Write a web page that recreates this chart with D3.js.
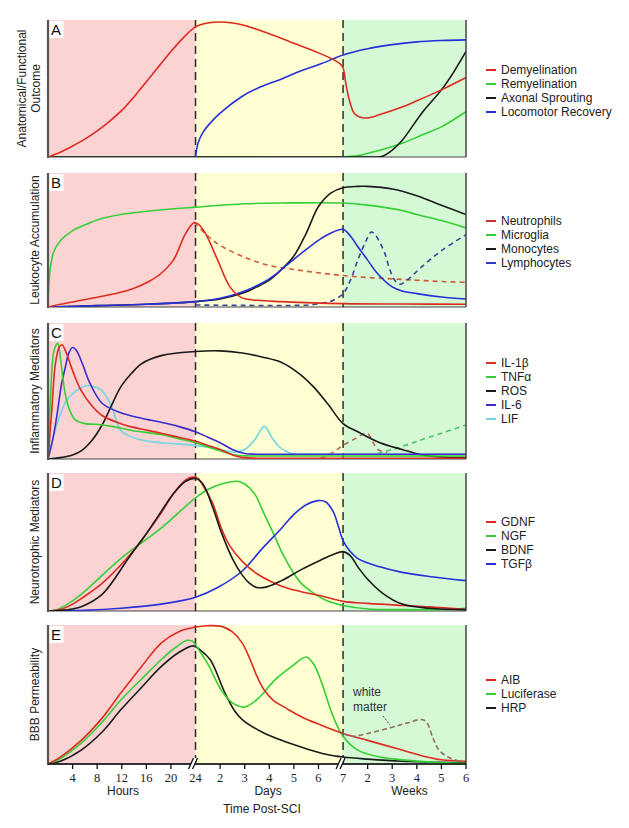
<!DOCTYPE html>
<html><head><meta charset="utf-8">
<script src="https://cdn.jsdelivr.net/npm/d3@7"></script>
<style>body{margin:0;background:#fff}svg{display:block;font-family:"Liberation Sans",Arial,sans-serif}</style>
</head><body><svg id="c" width="629" height="828"></svg>
<script>
// time index: 0..6 = hours 0..24 (4h per unit), 6..12 = days 1..7, 12..17 = weeks 1..6
const phases = [{from:0,to:6,name:"Hours"},{from:6,to:12,name:"Days"},{from:12,to:17,name:"Weeks"}];
const tickUnits  = [1,2,3,4,5,6,7,8,9,10,11,12,13,14,15,16,17];
const tickLabels = ["4","8","12","16","20","24","2","3","4","5","6","7","2","3","4","5","6"];

// Panel A
const demyelination = [[0,0],[0.5,0.035],[1,0.08],[1.5,0.13],[2,0.19],[2.5,0.26],[3,0.34],[3.5,0.44],[4,0.55],[4.5,0.66],[5,0.77],[5.5,0.87],[6,0.95],[6.5,0.978],[7,0.985],[7.5,0.978],[8,0.96],[9,0.9],[10,0.83],[11,0.76],[11.5,0.72],[11.85,0.685],[12,0.65],[12.1,0.55],[12.25,0.42],[12.45,0.32],[12.7,0.29],[13,0.285],[13.5,0.31],[14.4,0.365],[15,0.41],[16,0.49],[17,0.58]];
const remyelination = [[0,0],[6,0],[12,0],[12.6,0.01],[13.5,0.05],[14.4,0.1],[15.2,0.16],[16,0.22],[17,0.33]];
const axonalSprouting = [[0,0],[6,0],[12,0],[13.3,0],[13.6,0.005],[14,0.05],[14.4,0.12],[15.2,0.32],[16,0.49],[16.5,0.62],[17,0.77]];
const locomotorRecovery = [[6,0],[6.1,0.1],[6.3,0.18],[6.56,0.24],[7,0.32],[7.87,0.44],[8.5,0.5],[9.5,0.57],[10.3,0.63],[11.1,0.68],[12,0.745],[13,0.79],[14,0.82],[15,0.84],[16,0.85],[17,0.855]];

// Panel B
const neutrophils = [[0,0],[0.5,0.02],[1.35,0.05],[2.2,0.08],[2.96,0.11],[3.5,0.14],[4.1,0.19],[4.6,0.25],[5.1,0.35],[5.6,0.55],[5.95,0.63],[6.1,0.62],[6.4,0.55],[6.9,0.35],[7.4,0.15],[7.87,0.07],[8.5,0.05],[9.5,0.04],[12,0.025],[14.5,0.022],[17,0.02]];
const neutrophilsDashed = [[5.95,0.63],[6.5,0.53],[7,0.46],[8,0.37],[9,0.31],[10,0.28],[11,0.255],[12,0.235],[13,0.22],[14,0.21],[15,0.2],[16,0.19],[17,0.185]];
const microglia = [[0,0],[0.03,0.15],[0.1,0.3],[0.25,0.42],[0.53,0.5],[1,0.57],[1.35,0.6],[2,0.65],[2.96,0.69],[4,0.715],[6,0.745],[8,0.77],[9.5,0.776],[12,0.776],[13,0.76],[14.4,0.72],[15,0.69],[16,0.645],[17,0.59]];
const monocytes = [[0,0],[2,0.01],[4,0.02],[6,0.04],[7,0.06],[7.87,0.1],[8.5,0.15],[9,0.2],[9.5,0.28],[10,0.38],[10.5,0.55],[11,0.75],[11.5,0.85],[12,0.89],[12.6,0.9],[13,0.9],[14,0.88],[15,0.83],[16,0.76],[17,0.69]];
const lymphocytes = [[0,0],[2,0.01],[4,0.02],[6,0.04],[7,0.065],[7.87,0.11],[8.5,0.16],[9,0.21],[9.5,0.28],[10.3,0.4],[11.1,0.51],[11.6,0.56],[12,0.58],[12.3,0.53],[12.6,0.45],[13,0.35],[13.4,0.25],[14,0.15],[14.4,0.12],[15,0.1],[16,0.075],[17,0.06]];
const lymphocytesDashed = [[6,0.015],[8,0.012],[10,0.012],[10.6,0.015],[11.2,0.03],[11.6,0.05],[12,0.1],[12.3,0.2],[12.6,0.35],[12.9,0.48],[13.15,0.56],[13.3,0.54],[13.5,0.48],[13.7,0.4],[13.9,0.28],[14.1,0.2],[14.3,0.17],[14.6,0.2],[15.2,0.3],[16,0.42],[17,0.54]];

// Panel C
const il1b = [[0,0],[0.15,0.35],[0.3,0.7],[0.45,0.82],[0.57,0.84],[0.7,0.8],[1,0.65],[1.3,0.52],[1.7,0.41],[2.2,0.32],[2.96,0.26],[3.8,0.22],[4.6,0.19],[5.3,0.16],[6,0.13],[6.5,0.1],[7,0.07],[7.5,0.03],[7.9,0.012],[8.5,0.006],[12,0.005],[17,0.005]];
const tnfa = [[0,0],[0.1,0.45],[0.25,0.8],[0.4,0.85],[0.5,0.75],[0.7,0.48],[0.9,0.35],[1.1,0.29],[1.5,0.26],[1.95,0.255],[2.6,0.24],[3.4,0.21],[4.6,0.18],[5.3,0.15],[6,0.12],[6.5,0.09],[7,0.06],[7.6,0.03],[8,0.023],[8.5,0.022],[12,0.022],[17,0.022]];
const ros = [[0,0],[0.5,0.01],[1,0.03],[1.35,0.06],[1.8,0.14],[2.2,0.25],[2.6,0.4],[2.96,0.53],[3.4,0.63],[3.8,0.7],[4.6,0.76],[6,0.79],[7,0.795],[7.9,0.78],[8.7,0.75],[9.5,0.71],[10.2,0.63],[10.8,0.53],[11.4,0.4],[12,0.26],[12.6,0.2],[13.5,0.12],[14.4,0.07],[15.2,0.03],[16,0.015],[17,0.01]];
const il6 = [[0,0],[0.2,0.15],[0.37,0.33],[0.55,0.55],[0.7,0.67],[0.85,0.78],[1,0.82],[1.15,0.8],[1.4,0.7],[1.7,0.56],[2.2,0.41],[2.96,0.34],[3.8,0.3],[4.6,0.27],[5.3,0.24],[6,0.2],[6.5,0.16],[7,0.12],[7.5,0.07],[8,0.04],[8.5,0.035],[12,0.035],[17,0.035]];
const lif = [[0,0],[0.2,0.15],[0.5,0.33],[0.75,0.43],[1,0.48],[1.3,0.52],[1.6,0.54],[1.9,0.53],[2.15,0.51],[2.4,0.45],[2.6,0.38],[2.96,0.21],[3.3,0.17],[3.8,0.14],[4.6,0.12],[6,0.1],[7,0.07],[7.6,0.05],[8,0.07],[8.4,0.14],[8.8,0.24],[9.1,0.16],[9.4,0.09],[9.9,0.04],[10.5,0.035],[13,0.035],[17,0.035]];
const il1bDashed = [[11.1,0.005],[11.6,0.05],[12,0.1],[12.5,0.15],[12.97,0.19],[13.2,0.13],[13.4,0.07],[13.8,0.05]];
const tnfaDashed = [[13.4,0.04],[13.8,0.06],[14.2,0.08],[15,0.13],[16,0.19],[17,0.25]];

// Panel D
const gdnf = [[0,0],[0.5,0.01],[1,0.05],[1.35,0.09],[2.2,0.2],[3.3,0.4],[4,0.56],[4.6,0.71],[5.1,0.85],[5.6,0.95],[5.9,0.97],[6.1,0.96],[6.4,0.88],[6.7,0.78],[7.05,0.6],[7.4,0.47],[7.9,0.36],[8.5,0.27],[9.5,0.18],[10.3,0.14],[11.1,0.11],[12,0.07],[13,0.055],[14.4,0.04],[15.5,0.03],[17,0.01]];
const ngf = [[0,0],[0.3,0.005],[0.8,0.05],[1.35,0.12],[2.96,0.38],[4.6,0.6],[6,0.82],[6.5,0.88],[7.05,0.92],[7.4,0.935],[7.7,0.94],[8,0.92],[8.4,0.85],[8.8,0.7],[9.2,0.55],[9.5,0.43],[9.9,0.3],[10.3,0.2],[10.8,0.13],[11.4,0.07],[12,0.04],[13,0.015],[14.4,0.01],[16,0.01],[17,0.02]];
const bdnf = [[0,0],[0.5,0.005],[1,0.015],[1.35,0.03],[2.2,0.12],[3.3,0.39],[4,0.56],[4.6,0.72],[5.1,0.85],[5.6,0.94],[6,0.96],[6.3,0.92],[6.7,0.75],[7.05,0.57],[7.5,0.38],[7.9,0.26],[8.2,0.2],[8.5,0.17],[8.9,0.175],[9.5,0.22],[10.3,0.3],[11.1,0.37],[11.6,0.41],[12,0.43],[12.3,0.4],[12.6,0.32],[13,0.23],[13.6,0.13],[14.4,0.05],[15.5,0.02],[17,0.01]];
const tgfb = [[0,0],[1.5,0.005],[2.96,0.02],[4.6,0.05],[6,0.1],[6.9,0.17],[7.9,0.29],[8.7,0.45],[9.5,0.6],[10,0.7],[10.5,0.77],[11,0.8],[11.3,0.79],[11.6,0.72],[11.8,0.62],[12,0.51],[12.3,0.43],[12.6,0.38],[13.5,0.32],[14.4,0.28],[15.5,0.25],[17,0.22]];

// Panel E
const aib = [[0,0],[0.5,0.05],[1.35,0.17],[2.2,0.33],[2.96,0.51],[3.8,0.7],[4.6,0.87],[5.3,0.95],[6,0.985],[6.5,0.995],[7.05,0.99],[7.5,0.95],[7.9,0.87],[8.2,0.76],[8.5,0.63],[8.8,0.53],[9.15,0.46],[9.7,0.4],[10.3,0.34],[11.1,0.28],[12,0.22],[13,0.17],[14.4,0.1],[15.2,0.06],[16,0.03],[17,0.02]];
const luciferase = [[0,0],[0.5,0.04],[1.35,0.15],[2.2,0.3],[2.96,0.46],[3.8,0.61],[4.6,0.75],[5.2,0.84],[5.67,0.89],[5.9,0.88],[6.1,0.83],[6.5,0.72],[7.05,0.53],[7.5,0.44],[8.0,0.41],[8.6,0.48],[9.2,0.6],[9.9,0.7],[10.5,0.77],[10.8,0.72],[11.1,0.6],[11.6,0.34],[12,0.2],[12.6,0.1],[13.5,0.05],[14.4,0.03],[16,0.01],[17,0.005]];
const hrp = [[0,0],[0.5,0.02],[1.35,0.1],[2.2,0.23],[2.96,0.39],[3.8,0.55],[4.6,0.7],[5.3,0.8],[5.9,0.85],[6.2,0.82],[6.6,0.75],[7.2,0.51],[7.6,0.38],[7.9,0.32],[8.7,0.23],[9.5,0.17],[10.5,0.11],[11.3,0.07],[12,0.05],[13,0.035],[14.4,0.02],[17,0.01]];
const whiteMatter = [[12,0.22],[12.4,0.2],[13,0.22],[13.9,0.26],[14.6,0.295],[15.2,0.32],[15.4,0.3],[15.65,0.19],[15.9,0.1],[16.35,0.043],[16.9,0.015]];

const RED="#dd2b22", GREEN="#35cf35", BLACK="#1a1a1a", BLUE="#2630d8", CYAN="#6fd6e2";

const panels = [
 {letter:"A", top:20, bottom:157, ylabel:["Anatomical/Functional","Outcome"], legendY:70,
  series:[
   {name:"Remyelination", color:GREEN, data:remyelination},
   {name:"Axonal Sprouting", color:BLACK, data:axonalSprouting},
   {name:"Locomotor Recovery", color:BLUE, data:locomotorRecovery},
   {name:"Demyelination", color:RED, data:demyelination}],
  legend:["Demyelination","Remyelination","Axonal Sprouting","Locomotor Recovery"]},
 {letter:"B", top:173, bottom:307, ylabel:["Leukocyte Accumulation"], legendY:221,
  series:[
   {name:"Microglia", color:GREEN, data:microglia},
   {name:"Neutrophils", color:"#cf5a3a", data:neutrophilsDashed, dash:"5,4"},
   {name:"Lymphocytes", color:"#34459a", data:lymphocytesDashed, dash:"5,4"},
   {name:"Monocytes", color:BLACK, data:monocytes},
   {name:"Lymphocytes", color:BLUE, data:lymphocytes},
   {name:"Neutrophils", color:RED, data:neutrophils}],
  legend:["Neutrophils","Microglia","Monocytes","Lymphocytes"],
  legendColors:{"Neutrophils":"#c8323a","Microglia":GREEN,"Monocytes":BLACK,"Lymphocytes":"#3236c0"}},
 {letter:"C", top:323, bottom:459, ylabel:["Inflammatory Mediators"], legendY:363,
  series:[
   {name:"IL-1β", color:"#b8665a", data:il1bDashed, dash:"5,4"},
   {name:"TNFα", color:"#4cc46a", data:tnfaDashed, dash:"5,4"},
   {name:"LIF", color:CYAN, data:lif},
   {name:"ROS", color:BLACK, data:ros},
   {name:"IL-6", color:"#3a2ad0", data:il6},
   {name:"TNFα", color:GREEN, data:tnfa},
   {name:"IL-1β", color:RED, data:il1b}],
  legend:["IL-1β","TNFα","ROS","IL-6","LIF"]},
 {letter:"D", top:473, bottom:611, ylabel:["Neurotrophic Mediators"], legendY:522,
  series:[
   {name:"NGF", color:GREEN, data:ngf},
   {name:"TGFβ", color:BLUE, data:tgfb},
   {name:"GDNF", color:RED, data:gdnf},
   {name:"BDNF", color:BLACK, data:bdnf}],
  legend:["GDNF","NGF","BDNF","TGFβ"]},
 {letter:"E", top:625, bottom:764, ylabel:["BBB Permeability"], legendY:680,
  series:[
   {name:"HRP", color:BLACK, data:hrp},
   {name:"Luciferase", color:GREEN, data:luciferase},
   {name:"AIB", color:RED, data:aib},
   {name:"white matter", color:"#8e7064", data:whiteMatter, dash:"5,3"}],
  legend:["AIB","Luciferase","HRP"]}
];
const legendColorDefault = {"Demyelination":RED,"Remyelination":GREEN,"Axonal Sprouting":BLACK,"Locomotor Recovery":BLUE,
 "IL-1β":RED,"TNFα":GREEN,"ROS":BLACK,"IL-6":"#3a2ad0","LIF":CYAN,"GDNF":RED,"NGF":GREEN,"BDNF":BLACK,"TGFβ":BLUE,
 "AIB":RED,"Luciferase":GREEN,"HRP":BLACK};
const phaseColors = ["#fbd3d3","#ffffd3","#d4f9d4"];

const svg = d3.select("#c");
const x = d3.scaleLinear().domain([0,17]).range([48,466]);

panels.forEach((p,pi)=>{
  const y = d3.scaleLinear().domain([0,1]).range([p.bottom,p.top]);
  const g = svg.append("g");
  g.selectAll("rect.bg").data(phases).join("rect")
    .attr("x",d=>x(d.from)).attr("width",d=>x(d.to)-x(d.from))
    .attr("y",p.top).attr("height",p.bottom-p.top).attr("fill",(d,i)=>phaseColors[i]);
  const clipId="clip"+pi;
  svg.append("clipPath").attr("id",clipId).append("rect")
    .attr("x",x(0)).attr("y",p.top-2).attr("width",x(17)-x(0)).attr("height",p.bottom-p.top+2);
  g.append("line").attr("x1",x(0)).attr("x2",x(17)).attr("y1",p.bottom).attr("y2",p.bottom)
    .attr("stroke","#444").attr("stroke-width",1.2);
  g.selectAll("line.div").data([6,12]).join("line")
    .attr("x1",d=>x(d)).attr("x2",d=>x(d)).attr("y1",p.top).attr("y2",p.bottom)
    .attr("stroke","#2a2a2a").attr("stroke-width",1.5).attr("stroke-dasharray","8,5");
  const line = d3.line().x(d=>x(d[0])).y(d=>y(Math.max(0,d[1]))).curve(d3.curveCatmullRom.alpha(0.5));
  const cg = g.append("g").attr("clip-path",`url(#${clipId})`);
  cg.selectAll("path").data(p.series).join("path")
    .attr("d",d=>line(d.data)).attr("fill","none")
    .attr("stroke",d=>d.color).attr("stroke-width",1.6)
    .attr("stroke-dasharray",d=>d.dash||null);
  g.append("line").attr("x1",x(0)).attr("x2",x(0)).attr("y1",p.top).attr("y2",p.bottom+1)
    .attr("stroke","#555").attr("stroke-width",2.2);
  g.append("line").attr("x1",x(17)).attr("x2",x(17)).attr("y1",p.top).attr("y2",p.bottom)
    .attr("stroke","#444").attr("stroke-width",1.5);
  g.append("rect").attr("x",x(0)+1.5).attr("y",p.top+1).attr("width",14).attr("height",17).attr("fill","#fff");
  g.append("text").attr("x",x(0)+3).attr("y",p.top+15).attr("font-size",15).attr("fill","#111").text(p.letter);
  const cy=(p.top+p.bottom)/2;
  const lx = p.ylabel.length===2?[22,36]:[35];
  p.ylabel.forEach((t,i)=>{
    g.append("text").attr("transform",`translate(${lx[i]},${cy}) rotate(-90)`)
      .attr("text-anchor","middle").attr("dominant-baseline","central")
      .attr("font-size",12).attr("fill","#222").text(t);
  });
  const lg = g.append("g");
  p.legend.forEach((t,i)=>{
    const ly = p.legendY + i*14;
    const col = (p.legendColors&&p.legendColors[t])||legendColorDefault[t];
    lg.append("line").attr("x1",486).attr("x2",496).attr("y1",ly).attr("y2",ly).attr("stroke",col).attr("stroke-width",2);
    lg.append("text").attr("x",501).attr("y",ly).attr("dominant-baseline","central").attr("font-size",12).attr("fill","#222").text(t);
  });
});

const pE = panels[4];
const ax = svg.append("g");
ax.append("line").attr("x1",x(0)).attr("x2",x(17)).attr("y1",pE.bottom).attr("y2",pE.bottom).attr("stroke","#111").attr("stroke-width",1.5);
tickUnits.forEach((u,i)=>{
  if(u!==6 && u!==12){
    ax.append("line").attr("x1",x(u)).attr("x2",x(u)).attr("y1",pE.bottom).attr("y2",pE.bottom+5).attr("stroke","#111").attr("stroke-width",1.3);
  }
  ax.append("text").attr("x",x(u)).attr("y",pE.bottom+18).attr("text-anchor","middle")
    .attr("font-family","'Liberation Serif','Times New Roman',serif").attr("font-size",12.5).attr("fill","#222").text(tickLabels[i]);
});
[6,12].forEach(u=>{
  const bx = x(u)-2, by = pE.bottom;
  ax.append("polygon").attr("points",`${bx-5},${by+5} ${bx},${by-6} ${bx+4},${by-6} ${bx-1},${by+5}`).attr("fill","#fff");
  ax.append("line").attr("x1",bx-5).attr("y1",by+5).attr("x2",bx).attr("y2",by-6).attr("stroke","#111").attr("stroke-width",1.3);
  ax.append("line").attr("x1",bx-1).attr("y1",by+5).attr("x2",bx+4).attr("y2",by-6).attr("stroke","#111").attr("stroke-width",1.3);
});
const phaseCenters = [3.05, 8.95, 14.7];
phases.forEach((ph,i)=>{
  ax.append("text").attr("x",x(phaseCenters[i])).attr("y",pE.bottom+31).attr("text-anchor","middle")
    .attr("font-size",12).attr("fill","#222").text(ph.name);
});
ax.append("text").attr("x",262).attr("y",pE.bottom+49).attr("text-anchor","middle").attr("font-size",12).attr("fill","#222").text("Time Post-SCI");
ax.append("text").attr("x",353).attr("y",696).attr("font-size",12).attr("fill","#333").text("white");
ax.append("text").attr("x",353).attr("y",711).attr("font-size",12).attr("fill","#333").text("matter");
ax.append("line").attr("x1",383).attr("y1",716).attr("x2",390).attr("y2",725).attr("stroke","#555").attr("stroke-width",1).attr("stroke-dasharray","2,1.5");
</script></body></html>
